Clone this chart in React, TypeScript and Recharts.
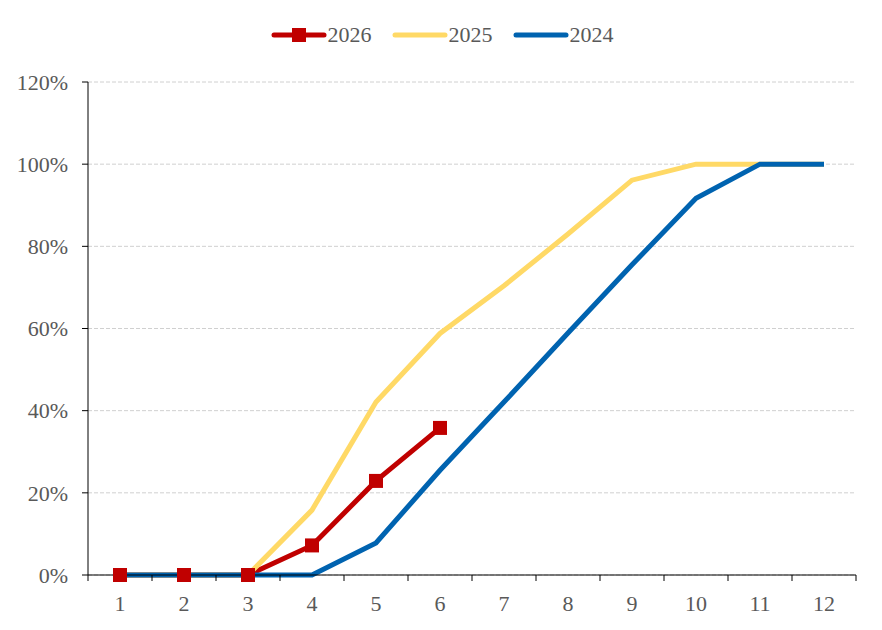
import { LineChart, Line, XAxis, YAxis, CartesianGrid, Legend } from 'recharts';

// categories and series (cumulative share)
const months = [1, 2, 3, 4, 5, 6, 7, 8, 9, 10, 11, 12];
const y2026 = [0, 0, 0, 0.072, 0.229, 0.358];
const y2025 = [0, 0, 0, 0.158, 0.421, 0.588, 0.704, 0.83, 0.961, 1, 1, 1];
const y2024 = [0, 0, 0, 0, 0.078, 0.255, 0.421, 0.589, 0.755, 0.917, 1, 1];
const yTicks = [0, 0.2, 0.4, 0.6, 0.8, 1.0, 1.2];
const boundaryTicks = [0.5, 1.5, 2.5, 3.5, 4.5, 5.5, 6.5, 7.5, 8.5, 9.5, 10.5, 11.5, 12.5];

const RED = '#C00000';
const YELLOW = '#FFD966';
const BLUE = '#0063B0';
const TEXT = '#595959';
const FONT = 'Liberation Serif, serif';
const FS = 22;

const data = months.map((m, i) => ({
  m,
  y2026: y2026[i] ?? null,
  y2025: y2025[i] ?? null,
  y2024: y2024[i] ?? null,
}));

const SquareDot = (props: any) => {
  const { cx, cy } = props;
  if (cx == null || cy == null) return null;
  return <rect x={cx - 7} y={cy - 7} width={14} height={14} fill={RED} />;
};

const legendItems = [
  { name: '2026', color: RED, marker: true },
  { name: '2025', color: YELLOW, marker: false },
  { name: '2024', color: BLUE, marker: false },
];

const LegendContent = () => (
  <div style={{ display: 'flex', justifyContent: 'center', gap: 20, fontFamily: FONT, fontSize: FS, color: TEXT, paddingLeft: 28 }}>
    {legendItems.map(it => (
      <div key={it.name} style={{ display: 'flex', alignItems: 'center' }}>
        <svg width={57} height={16}>
          <line x1={3} y1={8} x2={53} y2={8} stroke={it.color} strokeWidth={5} strokeLinecap="round" />
          {it.marker && <rect x={21} y={1} width={14} height={14} fill={RED} />}
        </svg>
        <span>{it.name}</span>
      </div>
    ))}
  </div>
);

export default function App() {
  return (
    <div style={{ position: 'absolute', left: 0, top: 0, background: '#fff', fontFamily: FONT }}>
      <LineChart width={882} height={630} data={data} margin={{ top: 56, right: 26, left: 0, bottom: 24 }}>
        <CartesianGrid stroke="#D0D0D0" strokeDasharray="4 2" vertical={false} />
        <XAxis
          xAxisId="b"
          dataKey="m"
          type="number"
          domain={[0.5, 12.5]}
          ticks={boundaryTicks}
          interval={0}
          tickFormatter={() => ''}
          axisLine={{ stroke: '#000', strokeWidth: 1 }}
          tickLine={{ stroke: '#000', strokeWidth: 1 }}
          tickSize={6}
          height={1}
        />
        <XAxis
          xAxisId="l"
          dataKey="m"
          type="number"
          domain={[0.5, 12.5]}
          ticks={months}
          interval={0}
          axisLine={false}
          tickLine={false}
          tickMargin={13}
          height={30}
          tick={{ fontSize: FS, fill: TEXT, fontFamily: FONT }}
        />
        <YAxis
          domain={[0, 1.2]}
          ticks={yTicks}
          interval={0}
          tickFormatter={(v: number) => `${Math.round(v * 100)}%`}
          axisLine={{ stroke: '#000', strokeWidth: 1 }}
          tickLine={{ stroke: '#000', strokeWidth: 1 }}
          tickSize={6}
          tickMargin={14}
          width={88}
          tick={{ fontSize: FS, fill: TEXT, fontFamily: FONT }}
        />
        <Legend
          verticalAlign="top"
          content={<LegendContent />}
          wrapperStyle={{ top: 22 }}
        />
        <Line xAxisId="l" dataKey="y2026" name="2026" stroke={RED} strokeWidth={5}
          dot={<SquareDot />} activeDot={false} isAnimationActive={false} />
        <Line xAxisId="l" dataKey="y2025" name="2025" stroke={YELLOW} strokeWidth={5}
          dot={false} activeDot={false} isAnimationActive={false} />
        <Line xAxisId="l" dataKey="y2024" name="2024" stroke={BLUE} strokeWidth={5}
          dot={false} activeDot={false} isAnimationActive={false} />
      </LineChart>
    </div>
  );
}
